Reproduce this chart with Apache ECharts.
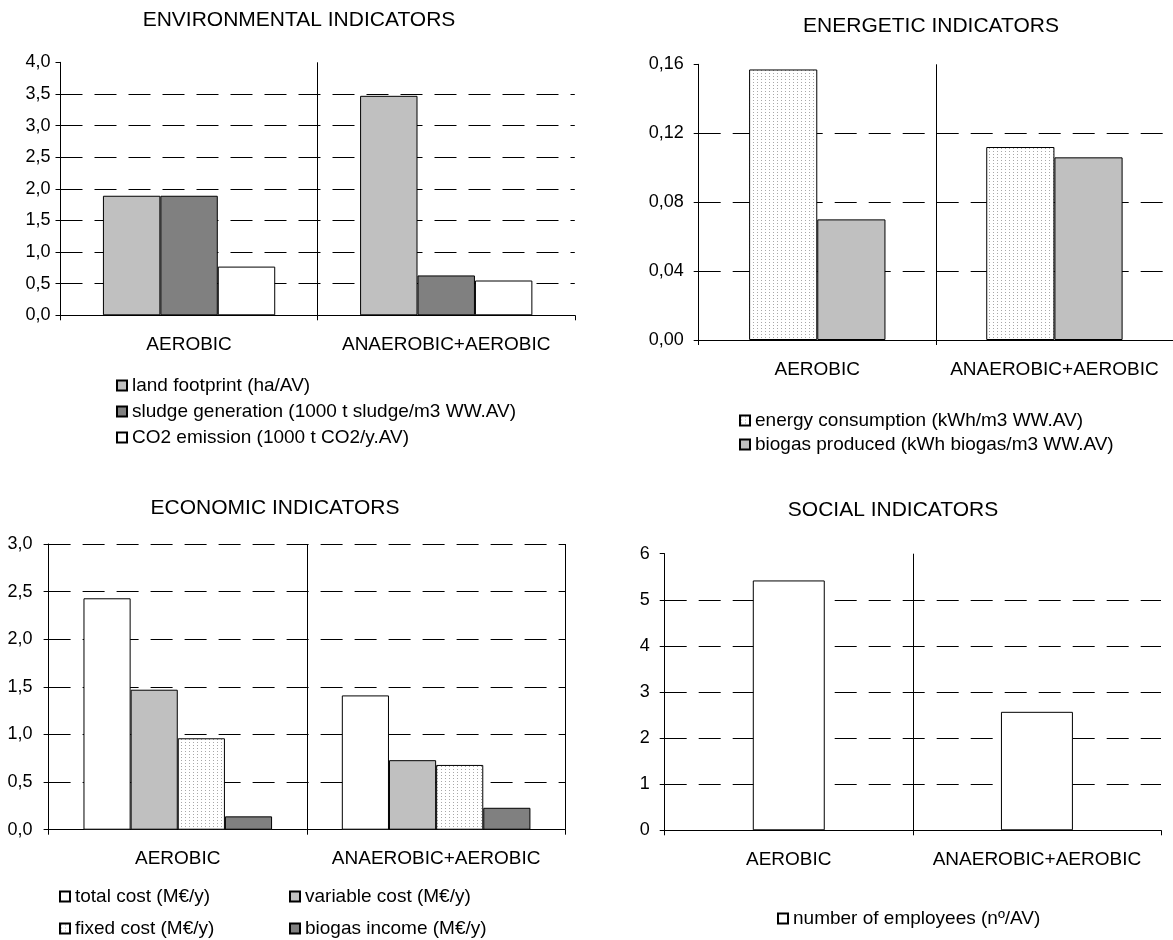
<!DOCTYPE html>
<html><head><meta charset="utf-8">
<script src="https://cdn.jsdelivr.net/npm/echarts@6/dist/echarts.min.js"></script>
<style>html,body{margin:0;padding:0;background:#fff}#c{width:1173px;height:940px}</style>
</head><body><div id="c"></div>
<script>
// ---- data ----
const categories = ['AEROBIC', 'ANAEROBIC+AEROBIC'];
// environmental
const envLand = [1.89, 3.47];
const envSludge = [1.89, 0.63];
const envCO2 = [0.77, 0.55];
// energetic
const enerConsumption = [0.157, 0.112];
const enerBiogas = [0.070, 0.106];
// economic
const ecoTotal = [2.43, 1.41];
const ecoVariable = [1.47, 0.73];
const ecoFixed = [0.96, 0.68];
const ecoBiogas = [0.14, 0.23];
// social
const socEmployees = [5.42, 2.57];

const titles = ['ENVIRONMENTAL INDICATORS', 'ENERGETIC INDICATORS', 'ECONOMIC INDICATORS', 'SOCIAL INDICATORS'];
const envNames = ['land footprint (ha/AV)', 'sludge generation (1000 t sludge/m3 WW.AV)', 'CO2 emission (1000 t CO2/y.AV)'];
const enerNames = ['energy consumption (kWh/m3 WW.AV)', 'biogas produced (kWh biogas/m3 WW.AV)'];
const ecoNames = ['total cost (M€/y)', 'variable cost (M€/y)', 'fixed cost (M€/y)', 'biogas income (M€/y)'];
const socNames = ['number of employees (nº/AV)'];

// ---- styles ----
const FONT = 'Liberation Sans, Arial, sans-serif';
const LIGHT = '#c0c0c0', DARK = '#808080', WHITE = '#ffffff';
const TITLE_SIZE = 21, LABEL_SIZE = 19, TICK_SIZE = 18, LEGEND_SIZE = 19;

function dotPattern() {
  const c = document.createElement('canvas');
  c.width = 4; c.height = 3;
  const g = c.getContext('2d');
  g.fillStyle = '#fff'; g.fillRect(0, 0, 4, 3);
  g.fillStyle = '#a8a8a8'; g.fillRect(1, 1, 1, 1);
  return { image: c, repeat: 'repeat' };
}
const DOTS = dotPattern();

function measure(text, size) {
  const c = document.createElement('canvas').getContext('2d');
  c.font = size + 'px ' + FONT;
  return c.measureText(text).width;
}
function titleAt(text, cx, cy) {
  const w = measure(text, TITLE_SIZE);
  return { text, left: cx - w / 2, top: cy - TITLE_SIZE / 2, padding: 0,
    textStyle: { fontSize: TITLE_SIZE, fontWeight: 'normal', color: '#000', fontFamily: FONT, lineHeight: TITLE_SIZE } };
}

const grids = [
  { left: 60.5, top: 62.3, width: 514.3, height: 253 },
  { left: 698.7, top: 64.3, width: 475.2, height: 275.7 },
  { left: 48.6, top: 544, width: 516.7, height: 285.7 },
  { left: 664.7, top: 553.7, width: 496.3, height: 276.6 }
];

function xAxis(gi, showMax) {
  return { type: 'category', gridIndex: gi, data: categories,
    axisLine: { lineStyle: { color: '#000', width: 1 } },
    axisTick: { show: true, interval: 0, length: 5, lineStyle: { color: '#000' } },
    axisLabel: { interval: 0, color: '#000', fontSize: LABEL_SIZE, fontFamily: FONT, margin: 20, hideOverlap: false },
    splitLine: { show: true, interval: 0, showMinLine: false, showMaxLine: showMax, lineStyle: { color: '#000', width: 1 } } };
}
function yAxis(gi, max, interval, dec, margin, showMax) {
  return { type: 'value', gridIndex: gi, min: 0, max: max, interval: interval,
    axisLine: { show: true, lineStyle: { color: '#000', width: 1 } },
    axisTick: { show: true, length: 5, lineStyle: { color: '#000' } },
    axisLabel: { color: '#000', fontSize: TICK_SIZE, fontFamily: FONT, margin: margin,
      formatter: v => v.toFixed(dec).replace('.', ',') },
    splitLine: { show: true, showMinLine: false, showMaxLine: showMax,
      lineStyle: { color: '#000', width: 1, type: [22, 12] } } };
}
function bar(name, data, gi, color, gap) {
  return { type: 'bar', name, data, xAxisIndex: gi, yAxisIndex: gi,
    barGap: '0%', barCategoryGap: gap,
    itemStyle: { color: color, borderColor: '#000', borderWidth: 1 },
    emphasis: { disabled: true } };
}
function legend(names, left, top, gap) {
  return { data: names, orient: 'vertical', left, top, itemGap: gap, padding: 0,
    icon: 'rect', itemWidth: 10, itemHeight: 10,
    selectedMode: false,
    textStyle: { fontSize: LEGEND_SIZE, color: '#000', fontFamily: FONT, lineHeight: 18, padding: 0 } };
}

const option = {
  animation: false,
  backgroundColor: '#fff',
  title: [
    titleAt(titles[0], 299, 20),
    titleAt(titles[1], 931, 26),
    titleAt(titles[2], 275, 508),
    titleAt(titles[3], 893, 510)
  ],
  grid: grids,
  xAxis: [xAxis(0, false), xAxis(1, false), xAxis(2, true), xAxis(3, false)],
  yAxis: [
    yAxis(0, 4, 0.5, 1, 10, false),
    yAxis(1, 0.16, 0.04, 2, 15, false),
    yAxis(2, 3, 0.5, 1, 16, true),
    yAxis(3, 6, 1, 0, 15, false)
  ],
  legend: [
    legend(envNames, 116, 376, 7),
    legend(enerNames, 739, 411, 5),
    legend([ecoNames[0], ecoNames[2]], 59, 887, 13),
    legend([ecoNames[1], ecoNames[3]], 289, 887, 13),
    legend(socNames, 777, 909, 5)
  ],
  series: [
    bar(envNames[0], envLand, 0, LIGHT, '33%'),
    bar(envNames[1], envSludge, 0, DARK, '33%'),
    bar(envNames[2], envCO2, 0, WHITE, '33%'),
    bar(enerNames[0], enerConsumption, 1, DOTS, '42.5%'),
    bar(enerNames[1], enerBiogas, 1, LIGHT, '42.5%'),
    bar(ecoNames[0], ecoTotal, 2, WHITE, '27%'),
    bar(ecoNames[1], ecoVariable, 2, LIGHT, '27%'),
    bar(ecoNames[2], ecoFixed, 2, DOTS, '27%'),
    bar(ecoNames[3], ecoBiogas, 2, DARK, '27%'),
    bar(socNames[0], socEmployees, 3, WHITE, '71%')
  ]
};
const chart = echarts.init(document.getElementById('c'), null, { renderer: 'canvas' });
chart.setOption(option);
</script>
</body></html>
